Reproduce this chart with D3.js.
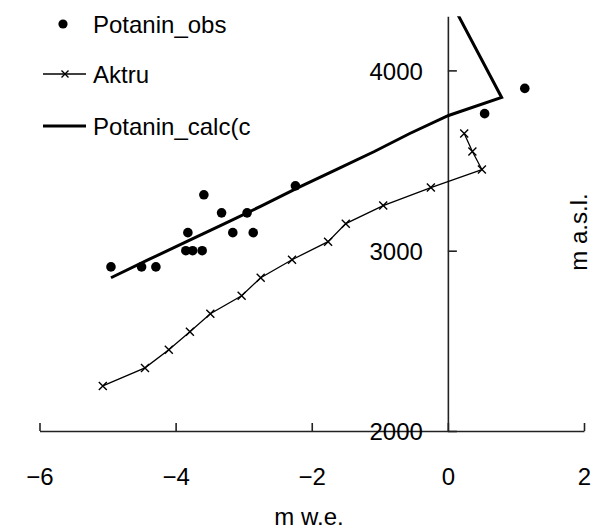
<!DOCTYPE html>
<html>
<head>
<meta charset="utf-8">
<script src="https://cdn.jsdelivr.net/npm/d3@7"></script>
<style>
  html, body { margin: 0; padding: 0; background: #fff; }
  svg text { font-family: "Liberation Sans", Arial, sans-serif; fill: #000; }
</style>
</head>
<body>
<svg id="chart" width="599" height="529"></svg>
<script>
// Observed mass balance on Potanin glacier (m w.e. vs elevation, m a.s.l.)
const obsBalance   = [-4.95, -4.50, -4.29, -3.85, -3.75, -3.61, -3.82, -3.585, -3.325, -3.16, -2.95, -2.86, -2.24, 0.54, 1.13];
const obsElevation = [2910, 2910, 2910, 3000, 3000, 3000, 3100, 3310, 3210, 3100, 3210, 3100, 3360, 3760, 3900];

// Aktru glacier profile, 100 m elevation bands
const aktruElevation = [2250, 2350, 2450, 2550, 2650, 2750, 2850, 2950, 3050, 3150, 3250, 3350, 3450, 3550, 3650];
const aktruBalance   = [-5.07, -4.45, -4.10, -3.79, -3.49, -3.03, -2.75, -2.29, -1.76, -1.50, -0.95, -0.25, 0.50, 0.36, 0.24];

// Calculated Potanin profile
const calcElevation = [2850, 2950, 3050, 3150, 3250, 3350, 3450, 3550, 3650, 3750, 3850, 4350];
const calcBalance   = [-4.95, -4.40, -3.84, -3.28, -2.73, -2.20, -1.64, -1.08, -0.56, 0.01, 0.79, 0.09];

// Axis ticks
const xTicks = [-6, -4, -2, 0, 2];
const yTicks = [2000, 3000, 4000];

const legendLabels = ["Potanin_obs", "Aktru", "Potanin_calc(c"];

const svg = d3.select("#chart");
const FONT = 24;

const x = d3.scaleLinear().domain([-6, 2]).range([39.5, 584]);
const y = d3.scaleLinear().domain([2000, 4300]).range([431, 16.3]);

// clip to the plotting area
svg.append("defs").append("clipPath").attr("id", "plotClip")
  .append("rect")
  .attr("x", x(-6)).attr("y", y(4300))
  .attr("width", x(2) - x(-6)).attr("height", y(2000) - y(4300));

// X axis along 2000 m, ticks pointing up
const xAxis = svg.append("g")
  .attr("transform", `translate(0,${y(2000)})`)
  .call(d3.axisBottom(x).tickValues(xTicks).tickSizeInner(-8).tickSizeOuter(0).tickPadding(0)
    .tickFormat(d => d < 0 ? "\u2212" + Math.abs(d) : String(d)));
xAxis.select(".domain").attr("stroke", "#222").attr("stroke-width", 1.6);
xAxis.selectAll(".tick line").attr("stroke", "#222").attr("stroke-width", 1.6);
xAxis.selectAll(".tick text")
  .attr("y", 54).attr("dy", null)
  .style("font-size", FONT + "px");

// Y axis crossing at x = 0, ticks pointing right, labels on the left
const yAxis = svg.append("g")
  .attr("transform", `translate(${x(0)},0)`)
  .call(d3.axisRight(y).tickValues(yTicks).tickSizeInner(9).tickSizeOuter(0)
    .tickFormat(d3.format("d")));
yAxis.select(".domain").attr("stroke", "#222").attr("stroke-width", 1.6);
yAxis.selectAll(".tick line").attr("stroke", "#222").attr("stroke-width", 1.6);
yAxis.selectAll(".tick text")
  .attr("x", -25).attr("dy", "0.37em")
  .attr("text-anchor", "end")
  .style("font-size", FONT + "px");

const plot = svg.append("g").attr("clip-path", "url(#plotClip)");

// Calculated Potanin profile
const calcData = calcBalance.map((v, i) => ({ v, h: calcElevation[i] }));
plot.append("path")
  .datum(calcData)
  .attr("fill", "none").attr("stroke", "#000").attr("stroke-width", 3)
  .attr("stroke-linejoin", "miter")
  .attr("d", d3.line().x(d => x(d.v)).y(d => y(d.h)));

// Aktru profile with x markers
const aktruData = aktruBalance.map((v, i) => ({ v, h: aktruElevation[i] }));
plot.append("path")
  .datum(aktruData)
  .attr("fill", "none").attr("stroke", "#000").attr("stroke-width", 1.3)
  .attr("d", d3.line().x(d => x(d.v)).y(d => y(d.h)));

const crossPath = s => `M${-s},${-s}L${s},${s}M${-s},${s}L${s},${-s}`;
plot.selectAll(".aktru-mark")
  .data(aktruData)
  .join("path")
  .attr("class", "aktru-mark")
  .attr("transform", d => `translate(${x(d.v)},${y(d.h)})`)
  .attr("d", crossPath(4))
  .attr("stroke", "#000").attr("stroke-width", 1.4).attr("fill", "none");

// Observed points
const obsData = obsBalance.map((v, i) => ({ v, h: obsElevation[i] }));
svg.append("g").selectAll("circle")
  .data(obsData)
  .join("circle")
  .attr("cx", d => x(d.v)).attr("cy", d => y(d.h))
  .attr("r", 4.8).attr("fill", "#000");

// Legend
const legend = svg.append("g");
const legendY = [24, 74, 126];
legend.append("circle").attr("cx", 63).attr("cy", legendY[0]).attr("r", 4.6).attr("fill", "#000");
legend.append("line").attr("x1", 43).attr("x2", 86).attr("y1", legendY[1]).attr("y2", legendY[1])
  .attr("stroke", "#000").attr("stroke-width", 1.3);
legend.append("path").attr("transform", `translate(65,${legendY[1]})`).attr("d", crossPath(3.5))
  .attr("stroke", "#000").attr("stroke-width", 1.4);
legend.append("line").attr("x1", 43).attr("x2", 86).attr("y1", legendY[2]).attr("y2", legendY[2])
  .attr("stroke", "#000").attr("stroke-width", 3);
legend.selectAll("text")
  .data(legendLabels)
  .join("text")
  .attr("x", 93).attr("y", (d, i) => legendY[i] + 8.5)
  .style("font-size", FONT + "px")
  .text(d => d);

// Axis titles
svg.append("text")
  .attr("x", 309).attr("y", 525)
  .attr("text-anchor", "middle")
  .style("font-size", FONT + "px")
  .text("m w.e.");

svg.append("text")
  .attr("transform", "translate(587,232) rotate(-90)")
  .attr("text-anchor", "middle")
  .style("font-size", FONT + "px")
  .text("m a.s.l.");
</script>
</body>
</html>
